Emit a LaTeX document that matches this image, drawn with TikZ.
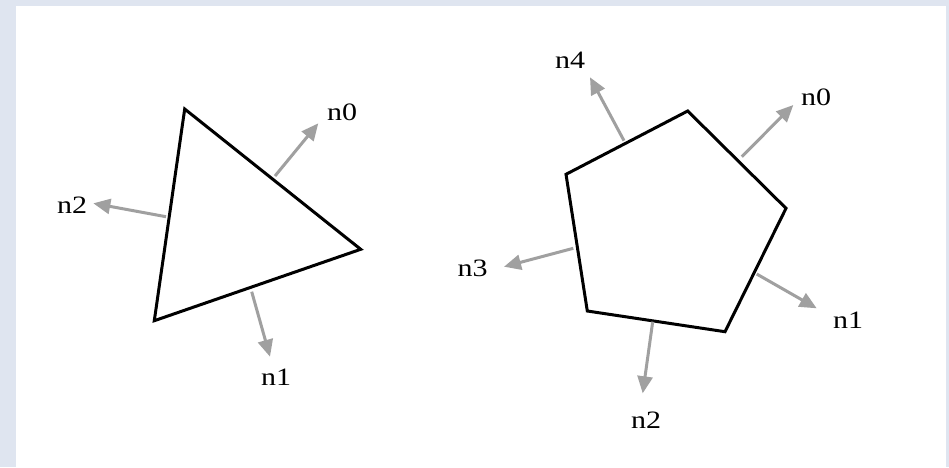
\documentclass[tikz,border=0pt]{standalone}
\usepackage{fontspec}
\setmainfont{Liberation Serif}
\usetikzlibrary{arrows.meta}
\definecolor{frame}{RGB}{223,229,240}
\definecolor{arrowgray}{RGB}{160,160,160}
\tikzset{
  shape line/.style={draw=black, line width=3pt, line join=miter},
  normal arrow/.style={draw=arrowgray, line width=3pt, -{Triangle[length=17pt,width=15pt]}},
  lbl/.style={inner sep=0pt, font=\fontsize{25}{25}\selectfont, text=black},
}
\newcommand{\wlbl}[1]{\scalebox{1.2}[1]{#1}}
\begin{document}
\begin{tikzpicture}[x=1pt,y=-1pt]
\useasboundingbox (0,0) rectangle (949,467);
\fill[frame] (0,0) rectangle (949,467);
\fill[white] (16,6) rectangle (946,467);
% triangle
\coordinate (ta) at (184.7,109);
\coordinate (tb) at (360.7,249.3);
\coordinate (tc) at (154.3,320.7);
\draw[shape line] (ta) -- (tb) -- (tc) -- cycle;
\coordinate (ts0) at (275,176);
\coordinate (tt0) at (318.3,123.3);
\coordinate (ts1) at (251.7,291.7);
\coordinate (tt1) at (270,356.7);
\coordinate (ts2) at (166,216.7);
\coordinate (tt2) at (93.3,203.3);
\draw[normal arrow] (ts0) -- (tt0);
\draw[normal arrow] (ts1) -- (tt1);
\draw[normal arrow] (ts2) -- (tt2);
\node[lbl] (tl0) at (342,112) {\wlbl{n0}};
\node[lbl] (tl1) at (276,377) {\wlbl{n1}};
\node[lbl] (tl2) at (72,205) {\wlbl{n2}};
% pentagon
\coordinate (pa) at (687.7,111);
\coordinate (pb) at (786,208.3);
\coordinate (pc) at (725,331.7);
\coordinate (pd) at (587.3,311);
\coordinate (pe) at (566,174.3);
\draw[shape line] (pa) -- (pb) -- (pc) -- (pd) -- (pe) -- cycle;
\coordinate (ps0) at (741.7,156.7);
\coordinate (pt0) at (793.3,105);
\coordinate (ps1) at (756.7,274);
\coordinate (pt1) at (816.7,308.3);
\coordinate (ps2) at (652.7,321.7);
\coordinate (pt2) at (642.7,393.3);
\coordinate (ps3) at (573.3,248.3);
\coordinate (pt3) at (504,266.7);
\coordinate (ps4) at (624,140.7);
\coordinate (pt4) at (590,77.3);
\draw[normal arrow] (ps0) -- (pt0);
\draw[normal arrow] (ps1) -- (pt1);
\draw[normal arrow] (ps2) -- (pt2);
\draw[normal arrow] (ps3) -- (pt3);
\draw[normal arrow] (ps4) -- (pt4);
\node[lbl] (pl0) at (816,97) {\wlbl{n0}};
\node[lbl] (pl1) at (848,320) {\wlbl{n1}};
\node[lbl] (pl2) at (646,420) {\wlbl{n2}};
\node[lbl] (pl3) at (472.5,268) {\wlbl{n3}};
\node[lbl] (pl4) at (570,60) {\wlbl{n4}};
\end{tikzpicture}
\end{document}
